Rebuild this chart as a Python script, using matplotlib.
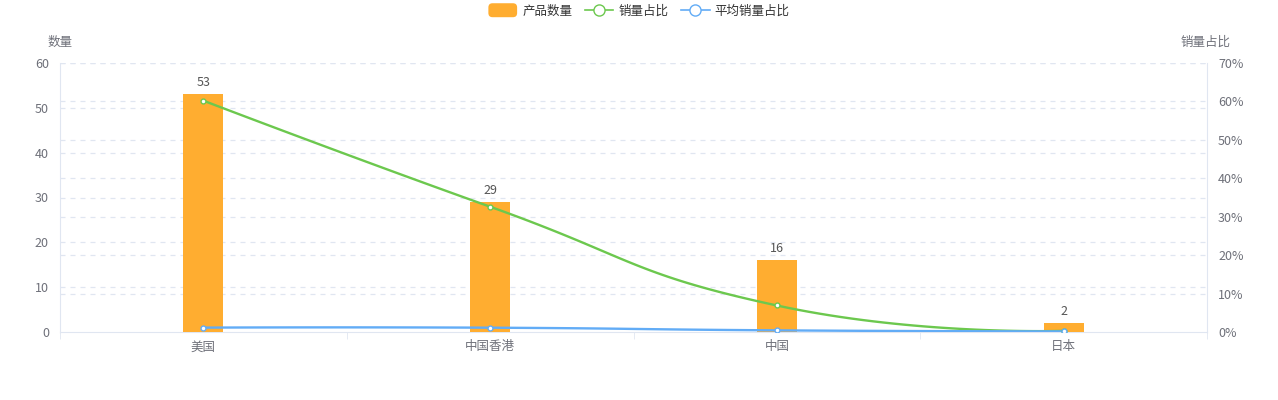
import numpy as np
import matplotlib
matplotlib.use("Agg")
import matplotlib.pyplot as plt
from matplotlib.lines import Line2D
from matplotlib.patches import FancyBboxPatch, Patch
from matplotlib.legend_handler import HandlerPatch

plt.rcParams['font.family'] = ['Noto Sans CJK SC', 'DejaVu Sans']

# data
countries = ["美国", "中国香港", "中国", "日本"]
product_count = [53, 29, 16, 2]
sales_share = [60.2, 32.6, 6.9, 0.3]        # %
avg_sales_share = [1.14, 1.12, 0.43, 0.15]  # %

BAR_C = "#FFAD30"
GREEN = "#6CC84E"
BLUE = "#62ACF6"
TEXT_C = "#6E7079"
AXIS_C = "#E0E6F1"

LEFT_MAX = 60
RIGHT_MAX = 70


def smooth_curve(ax, xs, ys, smooth=0.5, n=40):
    # echarts-like bezier smoothing, computed in display space
    pts = ax.transData.transform(np.column_stack([xs, ys]))
    m = len(pts)
    cps = []
    for i in range(m):
        p = pts[i]
        if i == 0 or i == m - 1:
            cps.append((p, p))
            continue
        prev, nxt = pts[i - 1], pts[i + 1]
        v = nxt - prev
        d0 = np.linalg.norm(p - prev)
        d1 = np.linalg.norm(nxt - p)
        s = d0 + d1
        cps.append((p - v * smooth * d0 / s, p + v * smooth * d1 / s))
    out = []
    t = np.linspace(0, 1, n)[:, None]
    for i in range(m - 1):
        p0, p3 = pts[i], pts[i + 1]
        c1 = cps[i][1]
        c2 = cps[i + 1][0]
        seg = ((1 - t) ** 3) * p0 + 3 * ((1 - t) ** 2) * t * c1 + 3 * (1 - t) * t ** 2 * c2 + t ** 3 * p3
        out.append(seg if i == 0 else seg[1:])
    out = np.vstack(out)
    return ax.transData.inverted().transform(out)


class RoundBox(HandlerPatch):
    def create_artists(self, legend, orig_handle, xdescent, ydescent,
                       width, height, fontsize, trans):
        p = FancyBboxPatch((-xdescent, -ydescent - 1), width, height + 2,
                           boxstyle="round,pad=0,rounding_size=3",
                           facecolor=orig_handle.get_facecolor(),
                           edgecolor="none", transform=trans)
        return [p]


fig = plt.figure(figsize=(12.78, 4.0), dpi=100)
ax = fig.add_axes([60 / 1278, 68 / 400, 1147 / 1278, 269 / 400])
ax2 = ax.twinx()

x = np.arange(len(countries))
ax.set_xlim(-0.5, len(countries) - 0.5)
ax.set_ylim(0, LEFT_MAX)
ax2.set_ylim(0, RIGHT_MAX)

ax.bar(x, product_count, width=40 / 286.75, color=BAR_C, zorder=3)
for xi, v in zip(x, product_count):
    ax.text(xi, v + 1.2, str(v), ha="center", va="bottom", fontsize=9, color="#555555")

# dashed grids from both axes, kept behind the bars
for yv in np.arange(10, LEFT_MAX + 1, 10):
    ax.axhline(yv, color=AXIS_C, lw=0.9, ls=(0, (4, 4)), zorder=0)
for yv in np.arange(10, RIGHT_MAX + 1, 10):
    ax.axhline(yv * LEFT_MAX / RIGHT_MAX, color=AXIS_C, lw=0.9, ls=(0, (4, 4)), zorder=0)

fig.canvas.draw()
for vals, col in [(sales_share, GREEN), (avg_sales_share, BLUE)]:
    curve = smooth_curve(ax2, x, vals)
    ax2.plot(curve[:, 0], curve[:, 1], color=col, lw=1.7, zorder=4, solid_capstyle="round")
    ax2.plot(x, vals, ls="none", marker="o", ms=3.5, mfc="white", mec=col, mew=1, zorder=5)

for a in (ax, ax2):
    for s in a.spines.values():
        s.set_visible(False)
ax.spines["bottom"].set_visible(True)
ax.spines["bottom"].set_color(AXIS_C)
ax.spines["left"].set_visible(True)
ax.spines["left"].set_color(AXIS_C)
ax2.spines["right"].set_visible(True)
ax2.spines["right"].set_color(AXIS_C)

ax.set_yticks(np.arange(0, LEFT_MAX + 1, 10))
ax.tick_params(axis="y", length=0, labelsize=9, labelcolor=TEXT_C, pad=8)
ax2.set_yticks(np.arange(0, RIGHT_MAX + 1, 10))
ax2.set_yticklabels([f"{v}%" for v in range(0, RIGHT_MAX + 1, 10)])
ax2.tick_params(axis="y", length=0, labelsize=9, labelcolor=TEXT_C, pad=8)

ax.set_xticks(x)
ax.set_xticklabels(countries)
ax.set_xticks(np.arange(-0.5, len(countries), 1), minor=True)
ax.tick_params(axis="x", which="major", length=0, labelsize=9, labelcolor=TEXT_C, pad=6)
ax.tick_params(axis="x", which="minor", length=5, color=AXIS_C)

ax.set_zorder(ax2.get_zorder() - 1)
ax.patch.set_visible(True)
ax2.patch.set_visible(False)

fig.text(48 / 1278, 1 - 42 / 400, "数量", ha="left", va="center", fontsize=9, color=TEXT_C)
fig.text(1231 / 1278, 1 - 42 / 400, "销量占比", ha="right", va="center", fontsize=9, color=TEXT_C)

bar_handle = Patch(facecolor=BAR_C, edgecolor=BAR_C)
handles = [
    bar_handle,
    Line2D([0], [0], color=GREEN, lw=1.2, marker="o", ms=8, mfc="white", mec=GREEN),
    Line2D([0], [0], color=BLUE, lw=1.2, marker="o", ms=8, mfc="white", mec=BLUE),
]
fig.legend(handles, ["产品数量", "销量占比", "平均销量占比"], loc="center",
           bbox_to_anchor=(0.5, 1 - 11 / 400), ncol=3, frameon=False, fontsize=9,
           labelcolor="#333333", handlelength=2.3, handleheight=1.0,
           columnspacing=1.0, handletextpad=0.4,
           handler_map={bar_handle: RoundBox()})

fig.savefig("out.png", dpi=100)
